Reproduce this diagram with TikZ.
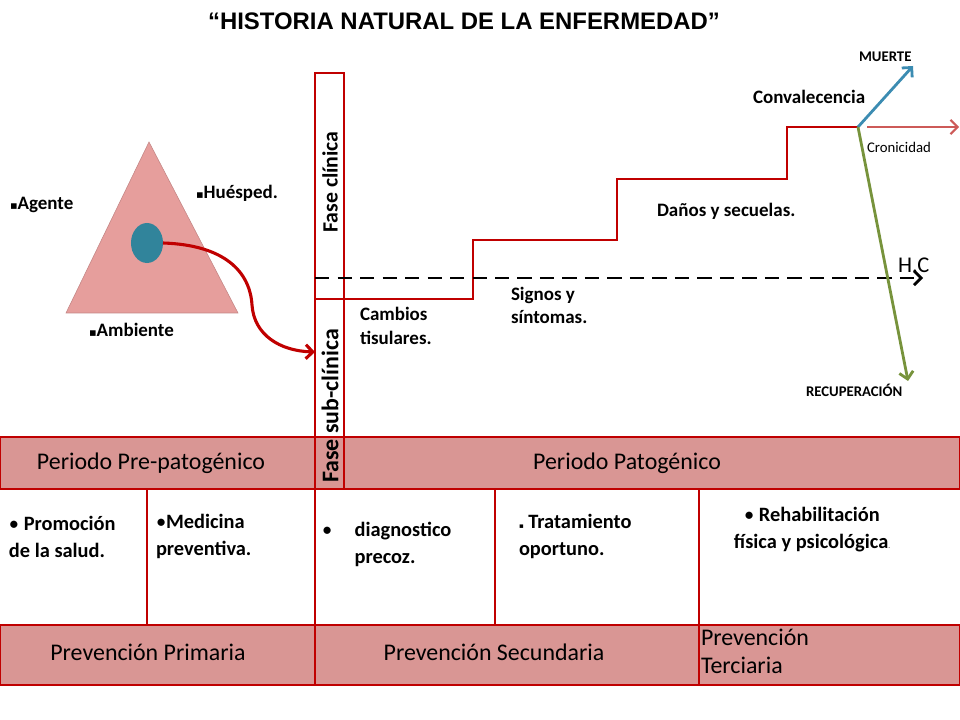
\documentclass[tikz,border=0pt]{standalone}
\usepackage{fontspec}
\setmainfont{Carlito}
\newfontfamily\titlefont{Liberation Sans}
\newfontfamily\symfont{DejaVu Sans}
\usepackage{tikz}
\usetikzlibrary{shapes.geometric}
\usetikzlibrary{arrows.meta}
\usetikzlibrary{positioning}
\definecolor{bandpink}{RGB}{217,150,148}
\definecolor{trianglepink}{RGB}{230,158,156}
\definecolor{darkred}{RGB}{192,0,0}
\definecolor{lightred}{RGB}{205,90,88}
\definecolor{tealblue}{RGB}{49,132,155}
\definecolor{deathblue}{RGB}{60,140,178}
\definecolor{olivegreen}{RGB}{119,147,60}
\newcommand{\sqbullet}{{\symfont\footnotesize ▪}}
\tikzset{
% Define standard arrow tip
>={Straight Barb[length=5pt, width=10pt]},
band/.style={fill=bandpink, draw=darkred, line width=0.8pt},
redline/.style={draw=darkred, line width=1.8pt},
lbl/.style={font=\bfseries\fontsize{13.5}{16.5}\selectfont, align=left},
small/.style={font=\fontsize{10.5}{12}\selectfont},
bandtext/.style={font=\fontsize{17}{20}\selectfont},
action/.style={font=\bfseries\fontsize{14.5}{19}\selectfont, align=left}
}

\begin{document}
\begin{tikzpicture}[x=0.025cm, y=-0.025cm, inner sep=0, outer sep=0]
  \useasboundingbox (0,0) rectangle (960,720);
  \node (title) at (464,21) {\titlefont\bfseries\fontsize{17}{20}\selectfont “HISTORIA NATURAL DE LA ENFERMEDAD”};

  % epidemiological triad
  \filldraw[fill=trianglepink, draw=trianglepink!85!black, line width=0.4pt] (149,142) -- (238,313) -- (66,313) -- cycle;
  \node[ellipse, fill=tealblue, minimum width=0.8cm, minimum height=1cm] (germ) at (147,243) {};
  \node[lbl, anchor=west] (agente) at (10,205) {\sqbullet Agente};
  \node[lbl, anchor=west] (huesped) at (196,193) {\sqbullet Huésped.};
  \node[lbl, anchor=west] (ambiente) at (89,330) {\sqbullet Ambiente};

  % bands
  \draw[band] (0,437) rectangle (960,489);
  \draw[band] (0,625) rectangle (960,685);
  \node[bandtext] (prepat) at (151,463) {Periodo Pre-patogénico};
  \node[bandtext] (pat) at (627,463) {Periodo Patogénico};
  \node[bandtext] (primaria) at (148,652) {Prevención Primaria};
  \node[bandtext] (secundaria) at (494,652) {Prevención Secundaria};
  \node[bandtext, anchor=north west, align=left] (terciaria) at (701,629) {Prevención\\Terciaria};

  % phase bar and separators
  \draw[redline] (315,73) rectangle (344,489);
  \draw[redline] (315,489) -- (315,685);
  \draw[redline] (147,489) -- (147,625);
  \draw[redline] (495,489) -- (495,625);
  \draw[redline] (699,489) -- (699,685);
  \node[rotate=90, font=\bfseries\fontsize{15.5}{17}\selectfont] (clinica) at (330,182) {Fase clínica};
  \node[rotate=90, font=\bfseries\fontsize{17}{19}\selectfont] (subclinica) at (330,406) {Fase sub-clínica};

  \coordinate (entry) at (315,352);
  \draw[redline, line width=2.2pt, ->] (germ.east) .. controls (225,245) and (250,272) .. (252,305) .. controls (254,335) and (280,351) .. (entry);

  % staircase
  \coordinate (start) at (315,299);
  \coordinate (fork) at (858,127);
  \draw[redline] (start) -- (473,299) |- (617,240) |- (787,179) |- (fork);

  % clinical horizon
  \coordinate (hc) at (923,278);
  \draw[line width=2pt, dash pattern=on 10pt off 6pt, ->] (315,278) -- (hc);
  \node[anchor=west, font=\fontsize{16}{18}\selectfont] (hclabel) at (898,265) {H.C};

  % outcomes
  \coordinate (muerte) at (913,66);
  \coordinate (cronstart) at (867,127);
  \coordinate (cronica) at (959,127);
  \coordinate (recup) at (908,381);
  \draw[deathblue, line width=2pt, ->] (fork) -- (muerte);
  \draw[lightred, line width=1.5pt, ->] (cronstart) -- (cronica);
  \draw[olivegreen, line width=2pt, ->] (fork) -- (recup);

  \node[lbl, anchor=north west, font=\bfseries\fontsize{13.5}{17}\selectfont] (cambios) at (360,307) {Cambios\\tisulares.};
  \node[lbl, anchor=north west] (signos) at (511,287) {Signos y\\síntomas.};
  \node[lbl, anchor=west] (danos) at (657,211) {Daños y secuelas.};
  \node[lbl, anchor=west] (conval) at (753,97) {Convalecencia};
  \node[small, font=\bfseries\fontsize{10.5}{12}\selectfont, anchor=west] (muertelbl) at (859,57) {MUERTE};
  \node[small, anchor=west] (cronlbl) at (867,147) {Cronicidad};
  \node[small, font=\bfseries\fontsize{10.5}{12}\selectfont, anchor=west] (recuplbl) at (806,390) {RECUPERACIÓN};

  % preventive actions
  \node[action, anchor=north west] (promocion) at (9,516) {{\mdseries•} Promoción\\de la salud.};
  \node[action, anchor=north west] (medicina) at (156,514) {{\mdseries•}Medicina\\preventiva.};
  \node[action, anchor=north west] (diagnostico) at (322,522) {{\mdseries•}\hspace{1.1em}diagnostico\\\hphantom{•}\hspace{1.1em}precoz.};
  \node[action, anchor=north west] (tratamiento) at (519,514) {{\symfont\tiny ▪} Tratamiento\\oportuno.};
  \node[action, align=center, anchor=north] (rehab) at (812,507) {{\mdseries•} Rehabilitación\\física y psicológica{\mdseries\tiny .}};
\end{tikzpicture}
\end{document}
